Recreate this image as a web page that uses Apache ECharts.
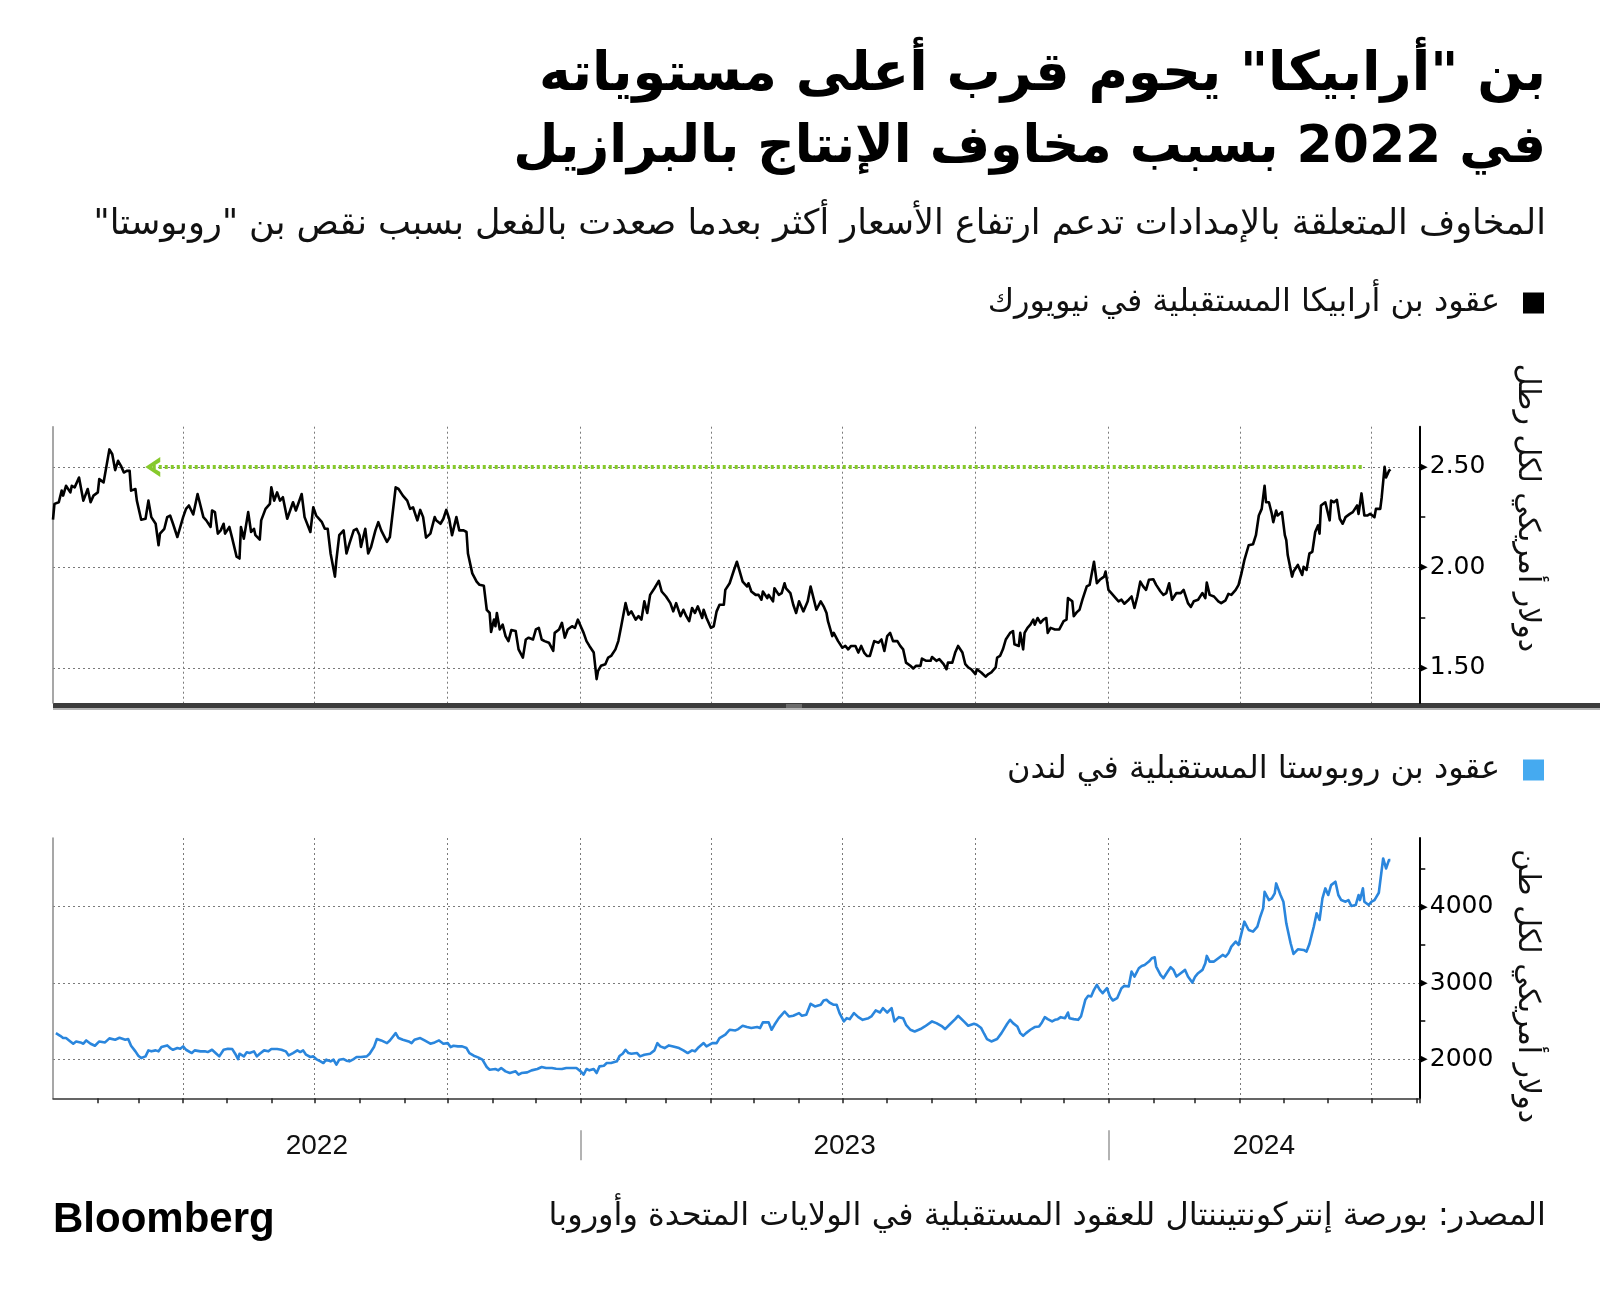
<!DOCTYPE html>
<html>
<head>
<meta charset="utf-8">
<script src="https://cdn.jsdelivr.net/npm/echarts@6/dist/echarts.min.js"></script>
<style>html,body{margin:0;padding:0;background:#fff;overflow:hidden}#c{width:1600px;height:1297px}</style>
</head>
<body>
<div id="c"></div>
<script>
// ---------- texts ----------
const titleLine1 = 'بن "أرابيكا" يحوم قرب أعلى مستوياته';
const titleLine2 = 'في 2022 بسبب مخاوف الإنتاج بالبرازيل';
const subtitle = 'المخاوف المتعلقة بالإمدادات تدعم ارتفاع الأسعار أكثر بعدما صعدت بالفعل بسبب نقص بن "روبوستا"';
const arabicaName = 'عقود بن أرابيكا المستقبلية في نيويورك';
const robustaName = 'عقود بن روبوستا المستقبلية في لندن';
const arabicaUnit = 'دولار أمريكي لكل رطل';
const robustaUnit = 'دولار أمريكي لكل طن';
const sourceText = 'المصدر: بورصة إنتركونتيننتال للعقود المستقبلية في الولايات المتحدة وأوروبا';
const brand = 'Bloomberg';

// ---------- axes ----------
const axisStart = '2022-01-01';
const axisEnd = '2024-08-03';
const yearLabels = ['2022', '2023', '2024'];
const arabicaTicks = [1.5, 2.0, 2.5];
const arabicaMinorTicks = [1.75, 2.25];
const arabicaRange = [1.325, 2.70];
const robustaTicks = [2000, 3000, 4000];
const robustaMinorTicks = [2500, 3500, 4500];
const robustaRange = [1490, 4900];
const recentHighValue = 2.50;
const recentHighDays = [69, 907];

// ---------- data (x = days since 2022-01-01) ----------
const arabicaDays = [0,1,4,6,7,9,12,13,15,18,19,21,24,26,28,31,32,35,39,41,43,45,47,49,51,53,54,57,58,61,64,66,68,71,73,74,77,79,81,83,86,87,90,92,94,97,100,102,104,106,109,110,112,114,116,118,119,122,124,127,129,130,132,135,137,139,140,143,144,147,150,151,153,155,157,159,162,164,166,168,170,172,174,178,180,182,186,188,190,192,193,195,196,198,201,203,205,208,210,212,213,216,218,220,223,225,227,231,233,
237,239,242,245,247,249,252,254,256,258,261,264,265,268,270,272,274,276,279,281,284,286,287,290,293,295,298,300,302,303,305,306,307,309,311,313,315,317,320,322,325,327,329,332,334,336,338,340,343,346,347,350,352,354,356,359,361,363,365,367,369,371,374,376,377,379,382,384,386,389,391,393,394,396,398,400,403,405,407,409,411,413,416,419,421,424,427,429,431,434,436,438,440,442,444,446,449,450,452,455,457,459,461,464,465,468,471,473,
475,477,480,481,483,486,488,490,491,494,495,498,499,502,504,506,507,510,512,514,516,519,521,522,524,526,528,531,533,535,536,539,540,543,546,548,550,552,555,557,559,561,563,565,567,568,571,573,575,577,579,581,584,586,588,590,593,595,597,600,601,604,607,608,611,613,616,618,619,622,624,626,629,631,633,635,638,639,642,645,647,649,652,653,655,657,659,662,664,665,668,669,671,672,674,676,678,679,681,683,685,687,688,690,693,696,699,701,702,705,706,708,710,712,715,717,
720,722,724,727,728,730,732,735,737,739,741,744,746,748,750,752,754,756,758,761,763,766,768,770,772,774,777,780,782,785,787,789,792,795,797,798,800,803,806,808,811,813,815,818,820,822,824,827,830,832,834,836,838,839,841,843,844,846,847,850,852,853,854,857,858,861,862,864,865,867,868,869,871,873,875,876,877,880,881,883,884,886,888,890,892,894,897,899,902,903,905,907,909,911,914,915,918,919,921,922,924,925];
const arabicaPrice = [2.237,2.316,2.324,2.382,2.357,2.406,2.373,2.406,2.398,2.447,2.439,2.332,2.390,2.324,2.357,2.373,2.439,2.423,2.587,2.563,2.484,2.530,2.505,2.472,2.480,2.480,2.382,2.390,2.332,2.237,2.242,2.332,2.250,2.217,2.110,2.168,2.192,2.250,2.258,2.217,2.151,2.160,2.250,2.291,2.308,2.263,2.365,2.308,2.250,2.234,2.201,2.283,2.275,2.168,2.184,2.217,2.168,2.201,2.143,2.053,2.044,2.201,2.143,2.275,2.176,2.192,2.160,2.138,2.234,2.291,2.316,2.398,2.332,2.373,2.332,2.349,2.242,2.283,2.324,2.283,2.324,2.365,2.250,2.176,2.299,2.258,2.225,2.192,2.192,2.069,2.061,1.954,2.036,2.160,2.184,2.069,2.118,2.184,2.192,2.160,2.102,2.192,2.069,2.102,2.184,2.225,2.184,2.127,2.151,
2.398,2.390,2.357,2.332,2.291,2.299,2.234,2.286,2.250,2.148,2.168,2.250,2.234,2.217,2.242,2.286,2.242,2.160,2.250,2.184,2.184,2.176,2.069,1.970,1.929,1.913,1.908,1.789,1.773,1.679,1.740,1.707,1.773,1.691,1.715,1.658,1.633,1.688,1.683,1.592,1.551,1.641,1.650,1.641,1.691,1.699,1.641,1.633,1.625,1.584,1.674,1.691,1.724,1.650,1.691,1.707,1.699,1.740,1.707,1.674,1.633,1.609,1.576,1.444,1.485,1.510,1.518,1.551,1.559,1.592,1.633,1.707,1.711,1.822,1.765,1.781,1.740,1.757,1.740,1.831,1.773,1.863,1.896,1.933,1.880,1.855,1.822,1.781,1.822,1.757,1.789,1.757,1.732,1.798,1.773,1.806,1.748,1.789,1.748,1.699,1.707,1.781,1.814,1.814,1.888,1.921,1.987,2.028,
1.979,1.929,1.905,1.921,1.880,1.863,1.863,1.839,1.880,1.847,1.863,1.831,1.896,1.863,1.872,1.921,1.896,1.872,1.814,1.773,1.831,1.781,1.814,1.831,1.905,1.847,1.789,1.831,1.806,1.773,1.732,1.658,1.674,1.633,1.600,1.609,1.592,1.609,1.609,1.576,1.609,1.576,1.559,1.559,1.609,1.633,1.625,1.641,1.584,1.658,1.674,1.633,1.633,1.609,1.592,1.526,1.510,1.497,1.510,1.510,1.546,1.535,1.535,1.554,1.535,1.543,1.518,1.493,1.526,1.526,1.576,1.609,1.576,1.518,1.502,1.493,1.469,1.493,1.477,1.456,1.469,1.477,1.502,1.551,1.559,1.592,1.641,1.674,1.683,1.617,1.609,1.674,1.592,1.674,1.699,1.715,1.740,1.715,1.748,1.724,1.740,1.748,1.674,1.699,1.691,1.691,1.732,1.740,1.847,1.831,1.757,1.776,1.789,1.839,1.905,1.913,
2.028,1.921,1.938,1.954,1.979,1.888,1.872,1.847,1.831,1.839,1.819,1.839,1.855,1.798,1.855,1.929,1.905,1.888,1.938,1.941,1.913,1.880,1.863,1.872,1.921,1.839,1.872,1.872,1.888,1.822,1.803,1.831,1.839,1.872,1.847,1.924,1.863,1.855,1.831,1.822,1.836,1.868,1.863,1.888,1.913,1.970,2.036,2.110,2.115,2.160,2.258,2.291,2.406,2.324,2.324,2.266,2.225,2.283,2.258,2.275,2.160,2.135,2.061,1.954,1.979,2.012,2.012,1.962,2.003,1.987,1.995,2.069,2.077,2.176,2.209,2.168,2.308,2.324,2.332,2.234,2.332,2.324,2.336,2.242,2.217,2.250,2.266,2.275,2.308,2.266,2.368,2.258,2.258,2.266,2.250,2.291,2.291,2.349,2.500,2.447,2.480,2.488];

const robustaDays = [2,5,7,9,12,14,16,19,21,23,26,29,32,36,39,43,46,50,52,54,57,59,61,64,66,68,71,73,75,79,81,83,86,88,90,92,96,98,102,105,107,110,113,115,118,121,124,126,128,129,132,134,136,139,141,143,146,149,151,155,158,161,163,166,169,171,173,175,178,180,182,185,187,189,192,194,196,198,201,203,205,208,210,213,217,219,222,224,227,231,233,
237,239,242,246,248,250,254,257,261,264,267,270,273,275,277,280,283,286,288,291,294,297,300,302,306,308,310,313,316,320,322,324,328,331,335,338,341,345,348,352,355,359,362,365,367,369,371,374,376,378,381,383,386,390,392,394,396,398,400,404,406,409,413,416,418,420,423,426,429,433,436,439,442,444,446,450,452,456,459,461,465,468,472,474,
475,477,480,483,487,489,491,495,497,499,502,504,506,509,512,516,518,521,524,527,531,533,535,537,540,542,544,547,549,551,554,557,560,564,566,569,572,574,577,580,582,585,588,590,593,596,600,603,608,611,615,617,620,624,626,630,633,637,639,642,644,646,649,653,656,660,662,664,667,669,671,673,676,679,682,684,686,688,691,693,695,697,700,702,703,706,709,711,714,716,718,
720,722,724,726,729,731,733,736,739,741,744,746,748,751,753,755,758,760,762,763,766,768,771,773,775,777,780,783,785,788,790,792,795,797,798,800,803,806,809,811,813,815,818,820,822,824,827,830,833,835,837,838,841,843,845,846,849,851,853,856,858,861,865,867,869,872,874,876,878,880,882,884,887,889,891,894,896,898,901,903,904,906,907,910,912,914,917,918,920,922,924,925];
const robustaPrice = [2344,2309,2279,2279,2235,2205,2235,2222,2205,2248,2205,2179,2235,2222,2275,2257,2283,2257,2266,2179,2105,2048,2017,2039,2118,2105,2118,2105,2161,2183,2148,2126,2148,2139,2170,2126,2083,2118,2105,2105,2096,2126,2074,2039,2126,2139,2135,2074,2004,2074,2039,2092,2083,2105,2039,2074,2118,2105,2135,2135,2126,2105,2052,2083,2118,2096,2118,2061,2031,2039,2004,1974,1952,1996,1974,1996,1930,1996,2004,1983,1974,2004,2031,2031,2039,2074,2161,2266,2248,2213,2248,
2344,2279,2257,2235,2213,2257,2279,2248,2205,2222,2248,2205,2213,2161,2179,2170,2170,2148,2083,2048,2026,1996,1900,1865,1874,1856,1887,1843,1821,1843,1800,1821,1830,1856,1874,1900,1887,1887,1878,1874,1887,1887,1887,1843,1800,1874,1856,1874,1821,1908,1917,1952,1952,1974,2048,2074,2126,2083,2074,2083,2039,2061,2074,2118,2213,2170,2148,2183,2170,2148,2118,2083,2118,2105,2148,2213,2170,2213,2213,2279,2323,2388,2379,2397,
2388,2440,2423,2410,2423,2410,2484,2484,2388,2453,2540,2584,2627,2562,2571,2606,2571,2584,2728,2693,2715,2771,2780,2745,2715,2715,2606,2497,2540,2527,2606,2553,2518,2540,2562,2641,2614,2671,2614,2671,2497,2553,2540,2453,2388,2366,2397,2431,2497,2475,2431,2397,2453,2527,2571,2497,2440,2466,2453,2410,2336,2266,2235,2266,2344,2466,2518,2475,2431,2344,2309,2344,2388,2423,2431,2484,2553,2527,2497,2518,2527,2553,2540,2614,2540,2527,2518,2562,2780,2832,2823,
2911,2976,2911,2867,2932,2823,2771,2802,2932,2963,2954,3150,3085,3194,3224,3237,3281,3325,3338,3216,3107,3063,3150,3207,3172,3085,3129,3172,3085,3006,3085,3129,3172,3259,3355,3281,3281,3325,3368,3346,3390,3477,3543,3499,3651,3804,3695,3673,3738,3869,3978,4196,4087,4109,4174,4305,4153,4066,3782,3521,3381,3442,3433,3412,3512,3738,3913,3826,4109,4240,4153,4283,4327,4153,4087,4066,4087,4009,4022,4153,4087,4240,4066,4022,4066,4087,4183,4196,4632,4501,4610,4610];

// ---------- build ----------
const DAY = 86400000;
const t0 = Date.parse(axisStart + 'T00:00:00Z');
const tMax = Date.parse(axisEnd + 'T00:00:00Z');
const ts = d => t0 + d * DAY;
const rtl = s => '\u202B' + s + '\u202C';
const arabicaData = arabicaDays.map((d, i) => [ts(d), arabicaPrice[i]]);
const robustaData = robustaDays.map((d, i) => [ts(d), robustaPrice[i]]);

// month / quarter / year boundaries inside the axis
const monthTicks = [], quarterTicks = [], yearStarts = [];
for (let y = 2022; y <= 2024; y++) {
  for (let m = 0; m < 12; m++) {
    const t = Date.UTC(y, m, 1);
    if (t <= t0 || t >= tMax) continue;
    monthTicks.push(t);
    if (m % 3 === 0) quarterTicks.push(t);
    if (m === 0) yearStarts.push(t);
  }
}
monthTicks.push(tMax);
const yearCenters = yearLabels.map(y => {
  const a = Math.max(Date.UTC(+y, 0, 1), t0), b = Math.min(Date.UTC(+y + 1, 0, 1), tMax);
  return (a + b) / 2;
});

const AR = '"DejaVu Sans", sans-serif';
const gridLine = { show: true, lineStyle: { color: '#7a7a7a', width: 1, type: [2, 3] } };
const off = { show: false };

function yAxesFor(gridIndex, range, ticks, minorTicks, fmt) {
  return [
    { gridIndex, type: 'value', position: 'right', min: range[0], max: range[1],
      axisLine: { show: true, lineStyle: { color: '#000', width: 2 } },
      axisTick: { show: false, customValues: ticks },
      axisLabel: { show: true, customValues: ticks, margin: 0,
        formatter: v => '{a|\u25B6}{b|' + fmt(v) + '}',
        rich: { a: { fontSize: 11, color: '#000', verticalAlign: 'middle', fontFamily: AR, padding: [0, 2, 0, 0] },
                b: { fontSize: 25, color: '#000', verticalAlign: 'middle', fontFamily: AR } } },
      splitLine: gridLine },
    { gridIndex, type: 'value', position: 'right', min: range[0], max: range[1],
      axisLine: off, axisLabel: off, splitLine: off,
      axisTick: { show: true, customValues: minorTicks, length: 6, lineStyle: { color: '#000', width: 1.5 } } },
    { gridIndex, type: 'value', position: 'left', min: range[0], max: range[1],
      axisLine: { show: true, lineStyle: { color: '#8a8a8a', width: 1.5 } },
      axisTick: off, axisLabel: off, splitLine: off }
  ];
}

const xBase = { type: 'value', min: t0, max: tMax, scale: true };

const chart = echarts.init(document.getElementById('c'), null, { renderer: 'canvas' });
chart.setOption({
  backgroundColor: '#ffffff',
  animation: false,
  textStyle: { fontFamily: AR },
  grid: [
    { left: 53, top: 426.7, width: 1366.3, height: 276.3, outerBoundsMode: 'none', containLabel: false },
    { left: 53, top: 838, width: 1366.3, height: 260.3, outerBoundsMode: 'none', containLabel: false }
  ],
  xAxis: [
    Object.assign({}, xBase, { gridIndex: 0, axisLine: off, axisLabel: off,
      axisTick: { show: false, customValues: quarterTicks }, splitLine: gridLine }),
    Object.assign({}, xBase, { gridIndex: 1, axisLine: off, axisLabel: off,
      axisTick: { show: false, customValues: quarterTicks }, splitLine: gridLine }),
    Object.assign({}, xBase, { gridIndex: 1, position: 'bottom',
      axisLine: { show: true, lineStyle: { color: '#333', width: 1.5 } }, axisLabel: off, splitLine: off,
      axisTick: { show: true, customValues: monthTicks, length: 5, lineStyle: { color: '#222', width: 1.5 } } }),
    Object.assign({}, xBase, { gridIndex: 1, position: 'bottom', offset: 32,
      axisLine: off, splitLine: off,
      axisTick: { show: true, customValues: yearStarts, length: 30, lineStyle: { color: '#9a9a9a', width: 1.5 } },
      axisLabel: { show: true, customValues: yearCenters, margin: 2,
        formatter: v => String(new Date(v).getUTCFullYear()),
        fontSize: 28, color: '#111', fontFamily: '"Liberation Sans", Arial, sans-serif' } })
  ],
  yAxis: [
    ...yAxesFor(0, arabicaRange, arabicaTicks, arabicaMinorTicks, v => Number(v).toFixed(2)),
    ...yAxesFor(1, robustaRange, robustaTicks, robustaMinorTicks, v => String(Math.round(v)))
  ],
  legend: [
    { data: [arabicaName], right: 51, top: 282, orient: 'horizontal', align: 'right', icon: 'rect',
      itemWidth: 21, itemHeight: 21, formatter: n => rtl(n), selectedMode: false,
      textStyle: { fontSize: 32, color: '#111', fontFamily: AR, padding: [0, 18, 0, 0] } },
    { data: [{ name: robustaName, itemStyle: { color: '#45aaf0' } }], right: 51, top: 749, orient: 'horizontal', align: 'right', icon: 'rect',
      itemWidth: 21, itemHeight: 21, formatter: n => rtl(n), selectedMode: false,
      textStyle: { fontSize: 32, color: '#111', fontFamily: AR, padding: [0, 18, 0, 0] } }
  ],
  series: [
    { name: arabicaName, type: 'line', xAxisIndex: 0, yAxisIndex: 0, data: arabicaData,
      showSymbol: false, symbol: 'none', color: '#000',
      lineStyle: { color: '#000', width: 2.6, join: 'round' },
      markLine: { silent: true, animation: false,
        symbol: ['path://M0,20 L10,0 L20,20 L15,20 L10,9 L5,20 Z', 'none'], symbolSize: [20, 15],
        lineStyle: { color: '#86c92b', width: 4, type: [3, 3] },
        label: { show: false },
        data: [[{ coord: [ts(recentHighDays[0]), recentHighValue] }, { coord: [ts(recentHighDays[1]), recentHighValue] }]] } },
    { name: robustaName, type: 'line', xAxisIndex: 1, yAxisIndex: 3, data: robustaData,
      showSymbol: false, symbol: 'none', color: '#2a86dd',
      lineStyle: { color: '#2a86dd', width: 2.6, join: 'round' } }
  ],
  graphic: [
    { type: 'text', x: 1546, y: 76, style: { text: rtl(titleLine1), font: 'bold 54px ' + AR, fill: '#000', align: 'right', verticalAlign: 'middle' } },
    { type: 'text', x: 1546, y: 148, style: { text: rtl(titleLine2), font: 'bold 52px ' + AR, fill: '#000', align: 'right', verticalAlign: 'middle' } },
    { type: 'text', x: 1546, y: 225, style: { text: rtl(subtitle), font: '35px ' + AR, fill: '#111', align: 'right', verticalAlign: 'middle' } },
    { type: 'text', x: 1527, y: 508, rotation: -Math.PI / 2, style: { text: rtl(arabicaUnit), font: '30px ' + AR, fill: '#111', align: 'center', verticalAlign: 'middle' } },
    { type: 'text', x: 1527, y: 986, rotation: -Math.PI / 2, style: { text: rtl(robustaUnit), font: '30px ' + AR, fill: '#111', align: 'center', verticalAlign: 'middle' } },
    { type: 'rect', shape: { x: 53, y: 703, width: 1547, height: 5 }, style: { fill: '#3c3c3c' } },
    { type: 'rect', shape: { x: 53, y: 708, width: 1547, height: 2 }, style: { fill: '#b5b5b5' } },
    { type: 'rect', shape: { x: 786, y: 704.5, width: 16, height: 1 }, style: { fill: '#9a9a9a' } },
    { type: 'rect', shape: { x: 786, y: 706.5, width: 16, height: 1 }, style: { fill: '#9a9a9a' } },
    { type: 'text', x: 53, y: 1220, style: { text: brand, font: 'bold 42px "Liberation Sans", Arial, sans-serif', fill: '#000', align: 'left', verticalAlign: 'middle' } },
    { type: 'text', x: 1546, y: 1217, style: { text: rtl(sourceText), font: '32px ' + AR, fill: '#111', align: 'right', verticalAlign: 'middle' } }
  ]
});
</script>
</body>
</html>
